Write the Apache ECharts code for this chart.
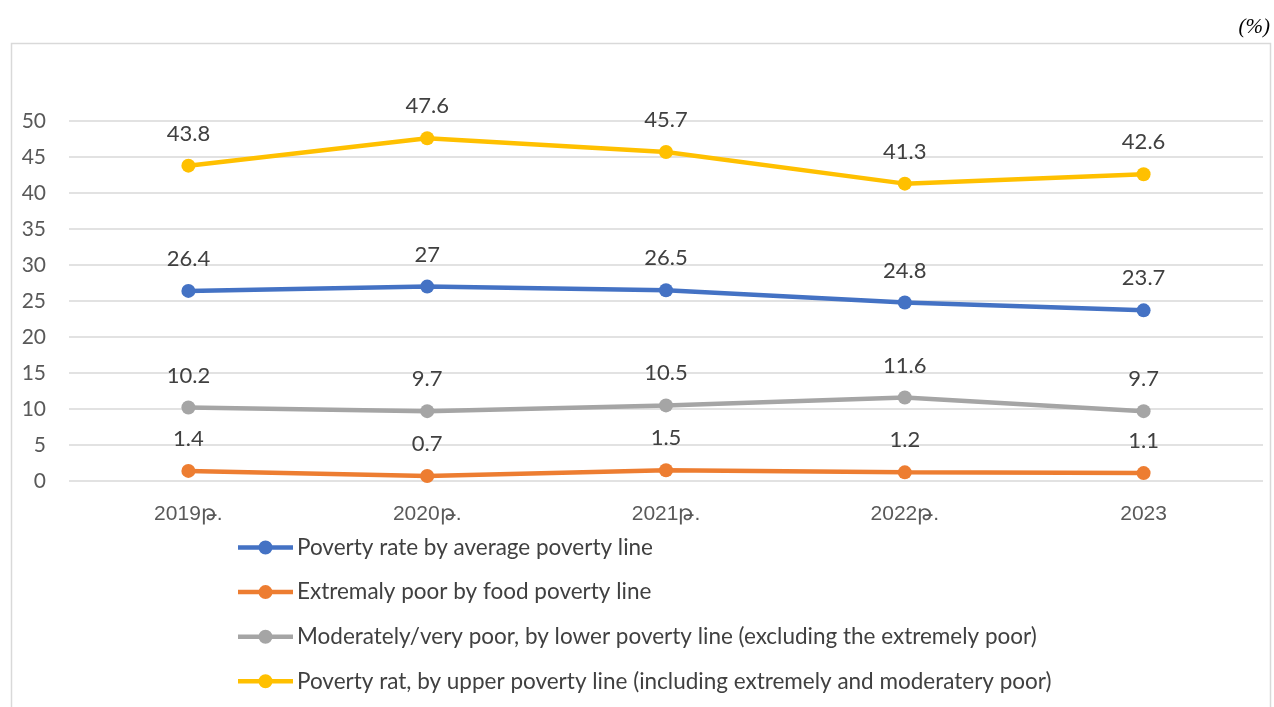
<!DOCTYPE html>
<html>
<head>
<meta charset="utf-8">
<script src="https://cdn.jsdelivr.net/npm/echarts@6/dist/echarts.min.js"></script>
<style>html,body{margin:0;padding:0;background:#fff}#c{width:1274px;height:707px}</style>
</head>
<body>
<div id="c"></div>
<script>
const categories = ["2019թ.", "2020թ.", "2021թ.", "2022թ.", "2023"];
const seriesNames = [
  "Poverty rate by average poverty line",
  "Extremaly poor by food poverty line",
  "Moderately/very poor, by lower poverty line (excluding the extremely poor)",
  "Poverty rat, by upper poverty line (including extremely and moderatery poor)"
];
const averageLine = [26.4, 27, 26.5, 24.8, 23.7];
const foodLine = [1.4, 0.7, 1.5, 1.2, 1.1];
const lowerLine = [10.2, 9.7, 10.5, 11.6, 9.7];
const upperLine = [43.8, 47.6, 45.7, 41.3, 42.6];
const colors = ["#4472C4", "#ED7D31", "#A5A5A5", "#FFC000"];
const yTicks = { min: 0, max: 50, interval: 5 };

const legendIcon = 'path://M0,4.75 H55 V9.25 H0 Z M20.5,7 A7,7 0 1,1 34.5,7 A7,7 0 1,1 20.5,7 Z';

const chart = echarts.init(document.getElementById('c'));
const mk = (name, data, color) => ({
  name, type: 'line', data,
  symbol: 'circle', symbolSize: 14,
  lineStyle: { width: 4.5, color },
  itemStyle: { color },
  label: { show: true, position: 'top', distance: 14, color: '#404040', fontSize: 22, fontFamily: 'Lato, "Open Sans", sans-serif' },
  emphasis: { disabled: true }
});
chart.setOption({
  animation: false,
  graphic: [
    { type: 'rect', shape: { x: 11.5, y: 43.5, width: 1259, height: 680 }, style: { fill: 'none', stroke: '#d9d9d9', lineWidth: 1.5 }, z: -1 },
    { type: 'text', right: 4, top: 17, style: { text: '(%)', font: 'italic 21px "Liberation Serif", serif', fill: '#000' } }
  ],
  grid: { left: 69, right: 11, top: 121, bottom: 226, containLabel: false },
  legend: {
    orient: 'vertical', left: 233, top: 531, itemWidth: 55, itemHeight: 14, itemGap: 21.6,
    icon: legendIcon,
    textStyle: { color: '#404040', fontSize: 22.5, lineHeight: 22, fontFamily: 'Lato, "Open Sans", sans-serif', padding: [0,0,0,-1] },
    data: seriesNames
  },
  xAxis: {
    type: 'category', data: categories, boundaryGap: true,
    axisLine: { show: false }, axisTick: { show: false },
    axisLabel: { color: '#595959', fontSize: 21, margin: 23, fontFamily: '"Liberation Sans", Arial, sans-serif' }
  },
  yAxis: {
    type: 'value', min: yTicks.min, max: yTicks.max, interval: yTicks.interval,
    axisLine: { show: false }, axisTick: { show: false },
    axisLabel: { color: '#595959', fontSize: 21, margin: 23, fontFamily: 'Lato, "Open Sans", sans-serif' },
    splitLine: { lineStyle: { color: '#d9d9d9', width: 1.5 } }
  },
  series: [
    mk(seriesNames[0], averageLine, colors[0]),
    mk(seriesNames[1], foodLine, colors[1]),
    mk(seriesNames[2], lowerLine, colors[2]),
    mk(seriesNames[3], upperLine, colors[3])
  ]
});
</script>
</body>
</html>
